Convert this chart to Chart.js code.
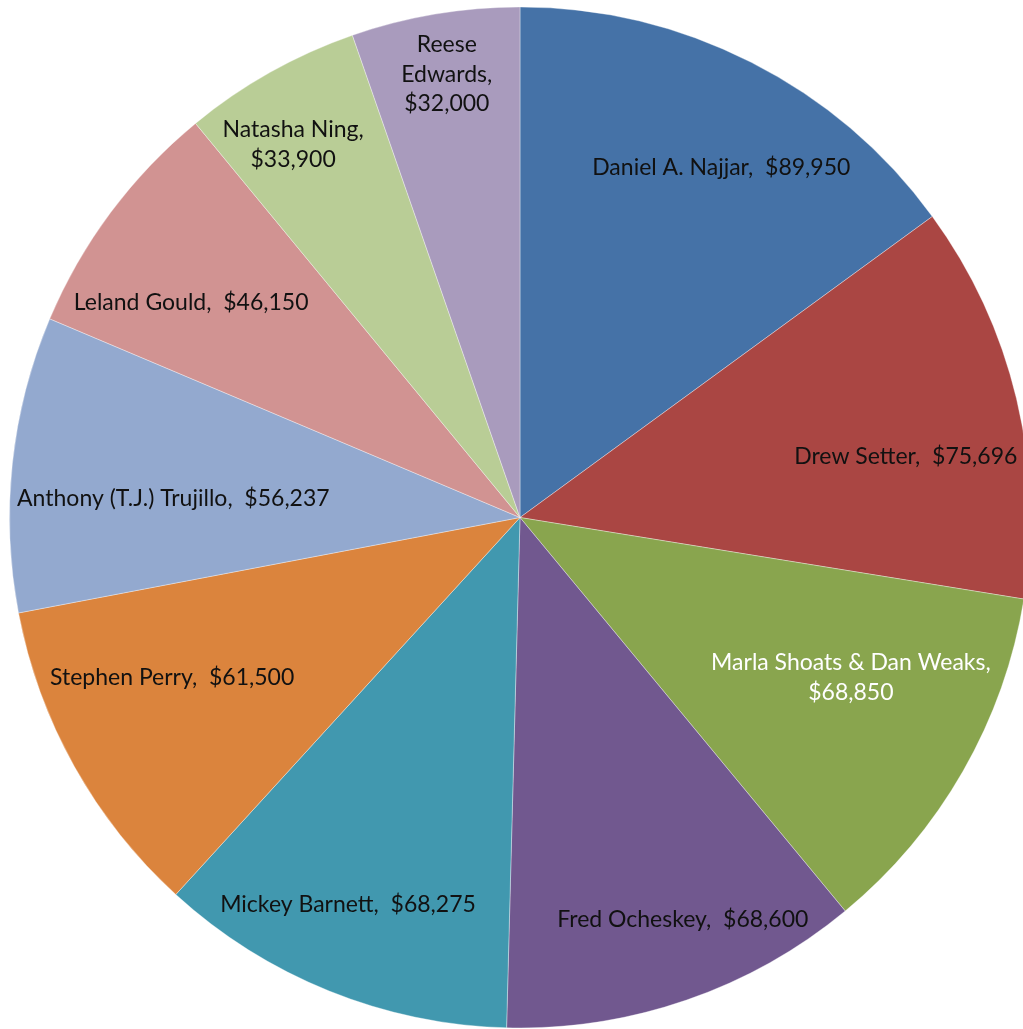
<!DOCTYPE html>
<html>
<head>
<meta charset="utf-8">
<script src="https://cdn.jsdelivr.net/npm/chart.js@4/dist/chart.umd.min.js"></script>
<style>
  html, body { margin: 0; padding: 0; background: #ffffff; overflow: hidden; }
  #wrap { position: absolute; left: 0; top: 0; width: 1040px; height: 1029px; }
</style>
</head>
<body>
<div id="wrap"><canvas id="pie" width="1040" height="1029"></canvas></div>
<script>
// Contributions by donor
const donors = [
  'Daniel A. Najjar',
  'Drew Setter',
  'Marla Shoats & Dan Weaks',
  'Fred Ocheskey',
  'Mickey Barnett',
  'Stephen Perry',
  'Anthony (T.J.) Trujillo',
  'Leland Gould',
  'Natasha Ning',
  'Reese Edwards'
];
const amounts = [89950, 75696, 68850, 68600, 68275, 61500, 56237, 46150, 33900, 32000];

const sliceColors = [
  '#4572A7', '#AA4643', '#89A54E', '#71588F', '#4198AF',
  '#DB843D', '#93A9CF', '#D19392', '#B9CD96', '#A99BBD'
];

// How each label's text is broken into lines
const labelLines = [
  ['{n},  {v}'],
  ['{n},  {v}'],
  ['{n},', '{v}'],
  ['{n},  {v}'],
  ['{n},  {v}'],
  ['{n},  {v}'],
  ['{n},  {v}'],
  ['{n},  {v}'],
  ['{n},', '{v}'],
  ['Reese', 'Edwards,', '{v}']
];
// Where each label sits: fraction of radius along the slice bisector, plus a small angular nudge (deg)
const labelRadius = [0.79, 0.765, 0.72, 0.85, 0.83, 0.75, 0.68, 0.77, 0.855, 0.88];
const labelNudge  = [3, 4.5, -4, -3, 2, 4.5, -3, -3.5, -2, 0.2];
const labelInk = ['#111', '#111', '#fff', '#111', '#111', '#111', '#111', '#111', '#111', '#111'];

const money = v => '$' + v.toLocaleString('en-US');

const sliceLabels = {
  id: 'sliceLabels',
  afterDatasetsDraw(chart) {
    const ctx = chart.ctx;
    const meta = chart.getDatasetMeta(0);
    ctx.save();
    ctx.font = '23px Lato, "Liberation Sans", sans-serif';
    ctx.textAlign = 'center';
    ctx.textBaseline = 'middle';
    const lineH = 29.5;
    meta.data.forEach((arc, i) => {
      const p = arc.getProps(['x', 'y', 'startAngle', 'endAngle', 'outerRadius'], true);
      const mid = (p.startAngle + p.endAngle) / 2 + labelNudge[i] * Math.PI / 180;
      const r = p.outerRadius * labelRadius[i];
      const cx = p.x + Math.cos(mid) * r;
      const cy = p.y + Math.sin(mid) * r;
      const lines = labelLines[i].map(t => t.replace('{n}', donors[i]).replace('{v}', money(amounts[i])));
      ctx.fillStyle = labelInk[i];
      const top = cy - (lines.length - 1) * lineH / 2;
      lines.forEach((t, k) => ctx.fillText(t, cx, top + k * lineH));
    });
    ctx.restore();
  }
};

new Chart(document.getElementById('pie'), {
  type: 'pie',
  data: {
    labels: donors,
    datasets: [{
      data: amounts,
      backgroundColor: sliceColors,
      borderColor: 'rgba(255,255,255,0.35)',
      borderWidth: 1
    }]
  },
  options: {
    responsive: false,
    animation: false,
    layout: { padding: { left: 9, right: 9, top: 6, bottom: 0 } },
    plugins: {
      legend: { display: false },
      tooltip: { enabled: false }
    }
  },
  plugins: [sliceLabels]
});
</script>
</body>
</html>
